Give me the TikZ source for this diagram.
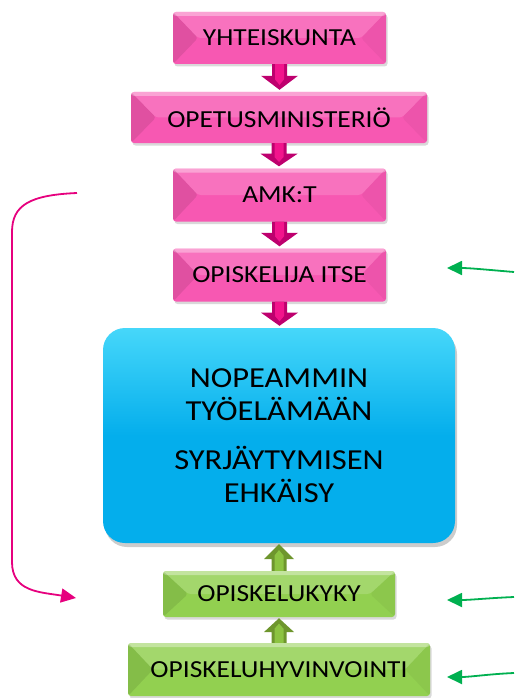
\documentclass[tikz,border=0pt]{standalone}
\usepackage{fontspec}
\setmainfont{Carlito}[FakeStretch=1.12]
\usetikzlibrary{calc,shadows,arrows.meta}
\definecolor{pinkbase}{RGB}{247,88,178}
\definecolor{pinkdark}{RGB}{190,0,110}
\definecolor{pinkin}{RGB}{242,20,140}
\definecolor{bluebase}{RGB}{4,174,236}
\definecolor{bluetop}{RGB}{70,215,250}
\definecolor{greenbase}{RGB}{146,208,80}
\definecolor{greendark}{RGB}{110,150,45}
\definecolor{greenin}{RGB}{140,195,65}
\definecolor{magline}{RGB}{230,0,126}
\definecolor{greenline}{RGB}{0,176,80}
\tikzset{
  bevel/.style={path picture={
    \fill[white,opacity=0.16] (path picture bounding box.north west) -- (path picture bounding box.north east) -- ([xshift=-25pt]path picture bounding box.east) -- ([xshift=25pt]path picture bounding box.west) -- cycle;
    \fill[white,opacity=0.35] (path picture bounding box.north west) rectangle ([yshift=-4pt]path picture bounding box.north east);
    \fill[black,opacity=0.09] (path picture bounding box.north west) -- ([xshift=25pt]path picture bounding box.west) -- (path picture bounding box.south west) -- cycle;
    \fill[black,opacity=0.04] (path picture bounding box.north east) -- ([xshift=-25pt]path picture bounding box.east) -- (path picture bounding box.south east) -- cycle;
  }},
  boxbase/.style={rectangle, rounded corners=3pt, inner sep=0pt, font=\fontsize{24.5}{28}\selectfont,
    drop shadow={opacity=0.3, shadow xshift=1.5pt, shadow yshift=-2.5pt}},
  pinkbox/.style={boxbase, fill=pinkbase, bevel},
  greenbox/.style={boxbase, fill=greenbase, bevel},
  bigbox/.style={rectangle, rounded corners=22pt, inner sep=0pt, top color=bluetop, bottom color=bluebase, middle color=bluebase,
    drop shadow={opacity=0.4, shadow xshift=2pt, shadow yshift=-4pt},
    font=\fontsize{29}{33}\selectfont, align=center},
  magconn/.style={draw=magline, line width=1.8pt, -{Triangle[length=15pt,width=14pt]}},
  greenconn/.style={draw=greenline, line width=1.8pt, -{Triangle[length=15pt,width=14pt]}},
}
\newcommand\blockdown[2]{%
  \fill[pinkdark] let \p1=(#1.south), \p2=(#2.north) in
    ({\x1-7.5pt},\y1) -- ({\x1+7.5pt},\y1) -- ({\x1+7.5pt},{\y1-0.42*(\y1-\y2)}) -- ({\x1+18.5pt},{\y1-0.42*(\y1-\y2)})
    -- (\x1,{\y2+2pt}) -- ({\x1-18.5pt},{\y1-0.42*(\y1-\y2)}) -- ({\x1-7.5pt},{\y1-0.42*(\y1-\y2)}) -- cycle;
  \fill[pinkin] let \p1=(#1.south), \p2=(#2.north) in
    ({\x1-4.5pt},\y1) -- ({\x1+4.5pt},\y1) -- ({\x1+4.5pt},{\y1-0.55*(\y1-\y2)}) -- (\x1,{\y1-0.75*(\y1-\y2)}) -- ({\x1-4.5pt},{\y1-0.55*(\y1-\y2)}) -- cycle;
}
\newcommand\blockup[2]{%
  \fill[greendark] let \p1=(#1.north), \p2=(#2.south) in
    ({\x1-7.5pt},\y1) -- ({\x1+7.5pt},\y1) -- ({\x1+7.5pt},{\y1+0.42*(\y2-\y1)}) -- ({\x1+15pt},{\y1+0.42*(\y2-\y1)})
    -- (\x1,{\y2-1pt}) -- ({\x1-15pt},{\y1+0.42*(\y2-\y1)}) -- ({\x1-7.5pt},{\y1+0.42*(\y2-\y1)}) -- cycle;
  \fill[greenin] let \p1=(#1.north), \p2=(#2.south) in
    ({\x1-4.5pt},\y1) -- ({\x1+4.5pt},\y1) -- ({\x1+4.5pt},{\y1+0.55*(\y2-\y1)}) -- (\x1,{\y1+0.75*(\y2-\y1)}) -- ({\x1-4.5pt},{\y1+0.55*(\y2-\y1)}) -- cycle;
}
\begin{document}
\begin{tikzpicture}[x=1pt,y=-1pt]
\useasboundingbox (0,0) rectangle (514,698);
\node[pinkbox, minimum width=213pt, minimum height=52pt] (yht) at (279.5,38) {YHTEISKUNTA};
\node[pinkbox, minimum width=296pt, minimum height=51pt] (ope) at (279,117.5) {OPETUSMINISTERIÖ};
\node[pinkbox, minimum width=213pt, minimum height=53pt] (amk) at (279.5,195) {AMK:T};
\node[pinkbox, minimum width=213pt, minimum height=53pt] (itse) at (279.5,275) {OPISKELIJA ITSE};
\node[bigbox, minimum width=352pt, minimum height=215pt] (main) at (279,435.5)
  {NOPEAMMIN\\TYÖELÄMÄÄN\\[16pt]SYRJÄYTYMISEN\\EHKÄISY};
\node[greenbox, minimum width=232pt, minimum height=46pt] (kyky) at (279,594) {OPISKELUKYKY};
\node[greenbox, minimum width=302pt, minimum height=53pt] (hyv) at (279,669.5) {OPISKELUHYVINVOINTI};

\blockdown{yht}{ope}
\blockdown{ope}{amk}
\blockdown{amk}{itse}
\blockdown{itse}{main}
\blockup{kyky}{main}
\blockup{hyv}{kyky}

\coordinate (ms) at (77,193);
\coordinate (me) at (76,598);
\draw[magconn] (ms) .. controls (30,195) and (12,205) .. (12,232) -- (12,562) .. controls (12,592) and (40,592) .. (me);

\coordinate (g1s) at (514,272);
\coordinate (g1e) at (447,268);
\coordinate (g2s) at (514,597);
\coordinate (g2e) at (447,600);
\coordinate (g3s) at (514,673);
\coordinate (g3e) at (447,677);
\draw[greenconn] (g1s) .. controls (490,270) and (470,268) .. (g1e);
\draw[greenconn] (g2s) .. controls (490,598) and (470,600) .. (g2e);
\draw[greenconn] (g3s) .. controls (490,674) and (470,677) .. (g3e);
\end{tikzpicture}
\end{document}
